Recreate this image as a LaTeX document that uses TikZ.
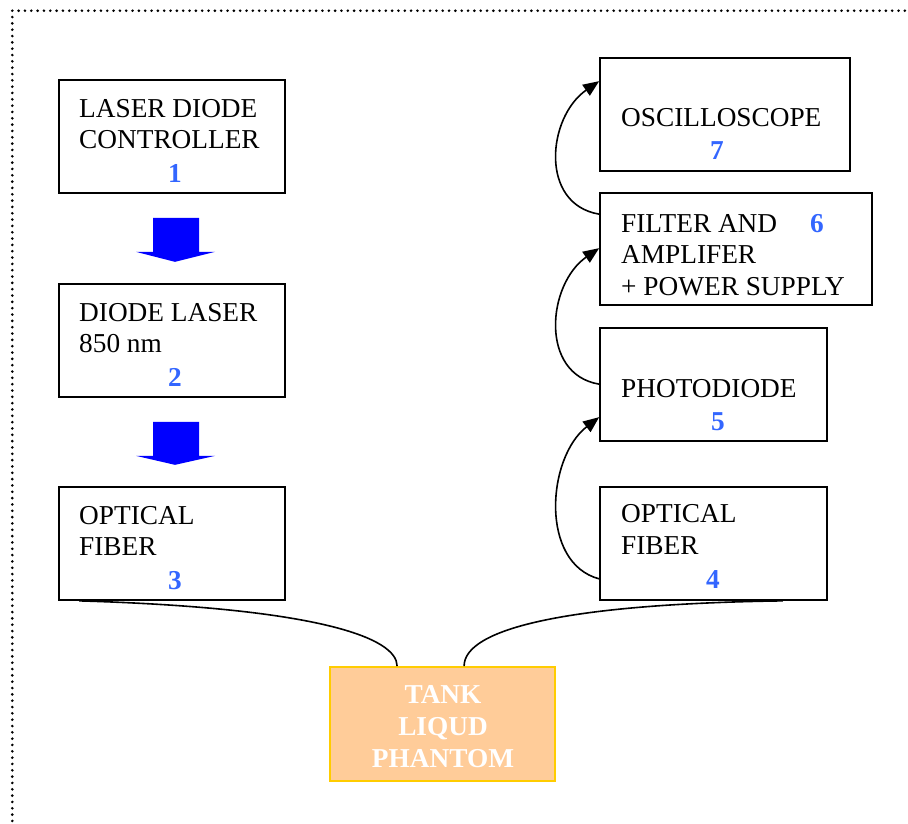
\documentclass[tikz,border=0pt]{standalone}
\usepackage{fontspec}
\setmainfont{Liberation Serif}
\usetikzlibrary{arrows.meta,calc}
\definecolor{numblue}{RGB}{51,102,255}
\definecolor{tankfill}{RGB}{255,204,153}
\definecolor{tankline}{RGB}{255,204,0}
\begin{document}
\begin{tikzpicture}[x=1pt,y=-1pt,
  font=\fontsize{27.3}{31.5}\selectfont,
  unit/.style={draw=black,line width=1.7pt,inner sep=0pt,minimum width=226pt,minimum height=113pt},
  lbl/.style={inner sep=0pt,anchor=base west},
  num/.style={inner sep=0pt,anchor=base,text=numblue,font=\fontsize{27.3}{31.5}\selectfont\bfseries},
  tanktxt/.style={inner sep=0pt,anchor=base,text=white,font=\fontsize{27.3}{31.5}\selectfont\bfseries},
  feed/.style={line width=1.6pt,-{Triangle[length=16pt,width=13pt]}},
  fiber/.style={line width=1.6pt},
  flow/.style={fill=blue},
  framedot/.style={fill=black}]
\useasboundingbox (0,0) rectangle (908,823);

% dotted frame, drawn dot by dot
\foreach \k in {0,...,142} \fill[framedot] (12.3+6.33*\k,10.7) circle (1.45pt);
\foreach \k in {1,...,129} \fill[framedot] (12.3,10.7+6.33*\k) circle (1.45pt);

% left column
\node[unit] (b1) at (172,136.5) {};
\node[lbl] (t1a) at (79,117) {LASER DIODE};
\node[lbl] (t1b) at (79,148) {CONTROLLER};
\node[num] (n1) at (175,182) {1};

\node[unit] (b2) at (172,340.5) {};
\node[lbl] (t2a) at (79,321) {DIODE LASER};
\node[lbl] (t2b) at (79,352) {850 nm};
\node[num] (n2) at (175,386) {2};

\node[unit] (b3) at (172,543.5) {};
\node[lbl] (t3a) at (79,524) {OPTICAL};
\node[lbl] (t3b) at (79,555) {FIBER};
\node[num] (n3) at (175,589) {3};

% right column
\node[unit,minimum width=250pt] (b7) at (725,114.5) {};
\node[lbl] (t7) at (621,126) {OSCILLOSCOPE};
\node[num] (n7) at (717,159) {7};

\node[unit,minimum width=272pt,minimum height=112pt] (b6) at (736,249) {};
\node[lbl] (t6a) at (621,232) {FILTER AND};
\node[lbl] (t6b) at (621,263) {AMPLIFER};
\node[lbl] (t6c) at (621,295) {+ POWER SUPPLY};
\node[num] (n6) at (817,232) {6};

\node[unit,minimum width=227pt] (b5) at (713.5,384.5) {};
\node[lbl] (t5) at (621,397) {PHOTODIODE};
\node[num] (n5) at (718,430) {5};

\node[unit,minimum width=227pt] (b4) at (713.5,543.5) {};
\node[lbl] (t4a) at (621,522) {OPTICAL};
\node[lbl] (t4b) at (621,554) {FIBER};
\node[num] (n4) at (713,588) {4};

% tank
\node[draw=tankline,fill=tankfill,line width=1.8pt,inner sep=0pt,
      minimum width=225pt,minimum height=114pt] (tank) at (442.5,724) {};
\node[tanktxt] (tk1) at (443,703) {TANK};
\node[tanktxt] (tk2) at (443,735) {LIQUD};
\node[tanktxt] (tk3) at (443,767) {PHANTOM};

% block arrows between the left units
\fill[flow] ($(b1.south)+(-19,24)$) -- ++(46,0) -- ++(0,34) -- ++(16,0)
  -- ($(b1.south)+(3,68)$) -- ($(b1.south)+(-36,58)$) -- ++(17,0) -- cycle;
\fill[flow] ($(b2.south)+(-19,24)$) -- ++(46,0) -- ++(0,34) -- ++(16,0)
  -- ($(b2.south)+(3,67)$) -- ($(b2.south)+(-36,58)$) -- ++(17,0) -- cycle;

% signal chain on the right
\coordinate (o4) at ($(b4.south west)+(0,-22)$);
\coordinate (i5) at ($(b5.north west)+(0,90)$);
\coordinate (o5) at ($(b5.north west)+(0,57)$);
\coordinate (i6) at ($(b6.north west)+(0,56)$);
\coordinate (o6) at ($(b6.north west)+(0,22)$);
\coordinate (i7) at ($(b7.north west)+(0,24)$);
\draw[feed] (o4) .. controls ($(o4)+(-60,-16)$) and ($(i5)+(-52,40)$) .. (i5);
\draw[feed] (o5) .. controls ($(o5)+(-60,-10)$) and ($(i6)+(-52,36)$) .. (i6);
\draw[feed] (o6) .. controls ($(o6)+(-60,-10)$) and ($(i7)+(-52,36)$) .. (i7);

% fibers into the tank
\coordinate (f3) at ($(b3.south west)+(21,0)$);
\coordinate (f4) at ($(b4.south east)+(-45,0)$);
\coordinate (tl) at ($(tank.north west)+(68,0)$);
\coordinate (tr) at ($(tank.north west)+(135,0)$);
\draw[fiber] (f3) .. controls (320,608) and ($(tl)+(0,-28)$) .. (tl);
\draw[fiber] (f4) .. controls (560,604) and ($(tr)+(0,-36)$) .. (tr);
\end{tikzpicture}
\end{document}
